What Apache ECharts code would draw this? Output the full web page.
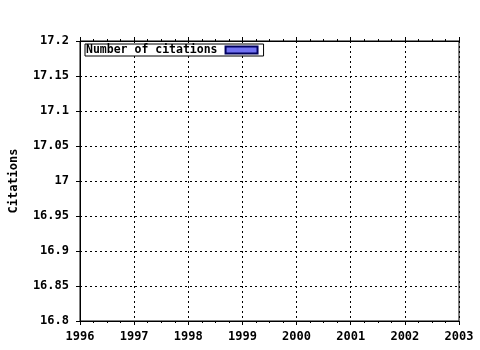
<!DOCTYPE html>
<html>
<head>
<meta charset="utf-8">
<script src="https://cdn.jsdelivr.net/npm/echarts@6/dist/echarts.min.js"></script>
<style>html,body{margin:0;padding:0;background:#fff}#c{width:480px;height:350px}</style>
</head>
<body>
<div id="c"></div>
<script>
var seriesName = 'Number of citations';
var years = [];            // no data points visible in the reference
var citations = [];        // no data points visible in the reference
var xTicks = [1996, 1997, 1998, 1999, 2000, 2001, 2002, 2003];
var yTicks = [16.8, 16.85, 16.9, 16.95, 17, 17.05, 17.1, 17.15, 17.2];

var FONT = 'DejaVu Sans Mono';
var chart = echarts.init(document.getElementById('c'), null, {renderer: 'canvas'});
var data = years.map(function (y, i) { return [y, citations[i]]; });
chart.setOption({
  animation: false,
  backgroundColor: '#fff',
  grid: {left: 79, right: 21, top: 41, bottom: 29, show: true, borderColor: '#000', borderWidth: 1, backgroundColor: 'transparent'},
  legend: {
    data: [{name: seriesName, icon: 'rect'}], left: 85, top: 44, align: 'right',
    backgroundColor: '#fff', borderColor: '#000', borderWidth: 1, borderRadius: 0,
    padding: [0, 5, 0, 1], itemWidth: 32, itemHeight: 7,
    textStyle: {fontFamily: FONT, fontWeight: 'bold', fontSize: 11.5, color: '#000', padding: [0, 3, 0, 0]}
  },
  xAxis: [{
    type: 'value', min: xTicks[0], max: xTicks[xTicks.length - 1], interval: 1, position: 'bottom',
    axisLine: {show: true, onZero: false, lineStyle: {color: '#000', width: 1}},
    axisTick: {show: true, length: 4, lineStyle: {color: '#000'}},
    minorTick: {show: true, splitNumber: 4, length: 2, lineStyle: {color: '#000'}},
    axisLabel: {fontFamily: FONT, fontWeight: 'bold', fontSize: 12, color: '#000', margin: 10,
      formatter: function (v) { return String(v); }},
    splitLine: {show: true, lineStyle: {color: '#000', type: [2, 3], width: 1}}
  }, {
    type: 'value', min: xTicks[0], max: xTicks[xTicks.length - 1], interval: 1, position: 'top',
    axisLine: {show: true, onZero: false, lineStyle: {color: '#000'}},
    axisTick: {show: true, length: 4, lineStyle: {color: '#000'}},
    minorTick: {show: true, splitNumber: 4, length: 2, lineStyle: {color: '#000'}},
    axisLabel: {show: false}, splitLine: {show: false}
  }],
  yAxis: {
    type: 'value', min: yTicks[0], max: yTicks[yTicks.length - 1], interval: 0.05,
    name: 'Citations', nameLocation: 'middle', nameGap: 60, nameRotate: 90,
    nameTextStyle: {fontFamily: FONT, fontWeight: 'bold', fontSize: 12, color: '#000'},
    axisLine: {show: true, onZero: false, lineStyle: {color: '#000'}},
    axisTick: {show: true, length: 4, lineStyle: {color: '#000'}},
    axisLabel: {fontFamily: FONT, fontWeight: 'bold', fontSize: 12, color: '#000', margin: 11,
      formatter: function (v) { return String(parseFloat(v.toFixed(2))); }},
    splitLine: {show: true, lineStyle: {color: '#000', type: [2, 3], width: 1}}
  },
  series: [{
    name: seriesName, type: 'bar', data: data, barWidth: 20,
    itemStyle: {color: '#7272f2', borderColor: '#000060', borderWidth: 1}
  }]
});
</script>
</body>
</html>
